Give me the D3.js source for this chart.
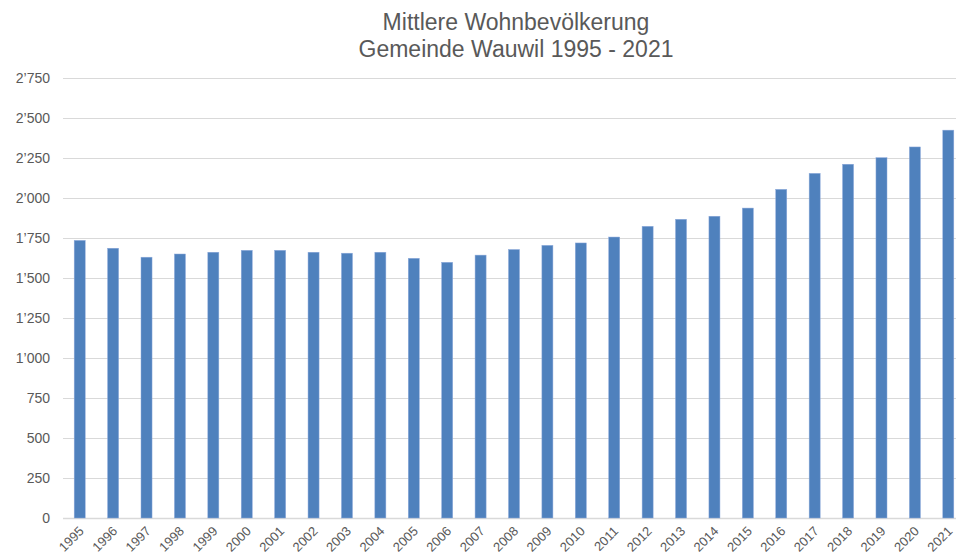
<!DOCTYPE html>
<meta charset="utf-8">
<script src="https://d3js.org/d3.v7.min.js"></script>
<style>
  body { margin: 0; background: #fff; overflow: hidden; }
  text { font-family: "Liberation Sans", Arial, sans-serif; fill: #595959; }
</style>
<body>
<div id="canvas"></div>
<script>
    // Jahre und mittlere Wohnbevölkerung
    var years = ["1995","1996","1997","1998","1999","2000","2001","2002","2003","2004",
                 "2005","2006","2007","2008","2009","2010","2011","2012","2013","2014",
                 "2015","2016","2017","2018","2019","2020","2021"];
    var population = [1735, 1686, 1630, 1650, 1661, 1673, 1673, 1661, 1655, 1661,
                      1623, 1598, 1643, 1678, 1704, 1719, 1756, 1823, 1867, 1886,
                      1937, 2054, 2154, 2211, 2252, 2319, 2424];
    var yTicks = [0, 250, 500, 750, 1000, 1250, 1500, 1750, 2000, 2250, 2500, 2750];
    var titleLines = ["Mittlere Wohnbevölkerung", "Gemeinde Wauwil 1995 - 2021"];

    var width = 956;
    var height = 557;

    var svg = d3.select('#canvas')
        .append("svg")
        .attr("width", width)
        .attr("height", height);

    var margin = {top: 78, left: 63, bottom: 39};
    var plotRight = 965; // letzte Säule wird am Rand abgeschnitten

    var x = d3.scaleBand()
        .domain(years)
        .range([margin.left, plotRight])
        .paddingInner(0.67)
        .paddingOuter(0.335);

    var y = d3.scaleLinear()
        .domain([0, 2750])
        .range([height - margin.bottom, margin.top]);

    var fmt = d3.formatLocale({decimal: ".", thousands: "\u2019", grouping: [3], currency: ["", ""]}).format(",");

    // Gitterlinien
    svg.append("g")
        .selectAll("line")
        .data(yTicks)
        .enter()
        .append("line")
        .attr("x1", margin.left)
        .attr("x2", width)
        .attr("y1", function(d) { return Math.round(y(d)) + 0.5; })
        .attr("y2", function(d) { return Math.round(y(d)) + 0.5; })
        .attr("stroke", "#d9d9d9")
        .attr("stroke-width", function(d) { return d === 0 ? 1.5 : 1; });

    // Y-Achse Beschriftung
    var yAxis = d3.axisLeft(y).tickValues(yTicks).tickFormat(fmt).tickSize(0).tickPadding(13);
    var gy = svg.append("g")
        .attr("transform", "translate(" + margin.left + ",0)")
        .call(yAxis);
    gy.select(".domain").remove();
    gy.selectAll("text")
        .style("font-size", "14px")
        .style("fill", "#595959")
        .style("font-family", "Liberation Sans, Arial, sans-serif");

    // Säulen
    svg.append("g")
        .selectAll("rect")
        .data(population)
        .enter()
        .append("rect")
        .attr("x", function(d, i) { return x(years[i]); })
        .attr("y", function(d) { return y(d); })
        .attr("width", x.bandwidth())
        .attr("height", function(d) { return y(0) - y(d); })
        .attr("fill", "#4f81bd")
        .attr("stroke", "#8eaadb")
        .attr("stroke-width", 0.5);

    // X-Achse Beschriftung (schräg)
    var xAxis = d3.axisBottom(x).tickSize(0).tickPadding(0);
    var gx = svg.append("g")
        .attr("transform", "translate(0," + (height - margin.bottom) + ")")
        .call(xAxis);
    gx.select(".domain").remove();
    gx.selectAll("text")
        .attr("text-anchor", "end")
        .attr("dy", "0")
        .attr("y", 0)
        .attr("transform", "translate(5,14) rotate(-45)")
        .style("font-size", "13px")
        .style("fill", "#595959")
        .style("font-family", "Liberation Sans, Arial, sans-serif");

    // Titel
    svg.append("text")
        .attr("x", 516)
        .attr("y", 0)
        .attr("text-anchor", "middle")
        .style("font-size", "23px")
        .selectAll("tspan")
        .data(titleLines)
        .enter()
        .append("tspan")
        .attr("x", 516)
        .attr("y", function(d, i) { return 30 + i * 27; })
        .text(function(d) { return d; });
</script>
</body>
